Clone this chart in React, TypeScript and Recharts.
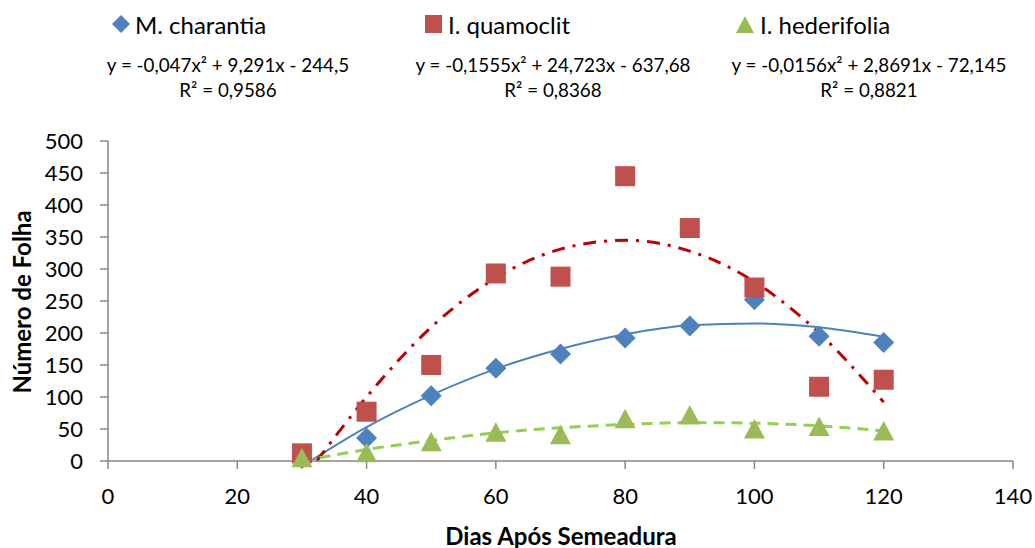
import { ComposedChart, Scatter, Line, XAxis, YAxis } from "recharts";

const days = [30, 40, 50, 60, 70, 80, 90, 100, 110, 120];
const charantia = [4, 36, 102, 145, 167, 192, 211, 252, 195, 185];
const quamoclit = [12, 77, 150, 293, 288, 445, 364, 271, 116, 127];
const hederifolia = [5, 13, 30, 45, 41, 66, 72, 50, 54, 47];

// trendline points
const charantiaTrendX = [31.3, 40, 50, 60, 70, 80, 90, 100, 110, 120];
const charantiaTrend = [0, 53, 103, 144, 175, 198, 212, 215, 209, 194];
const quamoclitTrendX = [32.3, 40, 50, 60, 70, 80, 90, 100, 110, 120];
const quamoclitTrend = [0, 100, 209, 286, 331, 345, 328, 280, 200, 92];
const hederifoliaTrendX = [30, 40, 50, 60, 70, 80, 90, 100, 110, 120];
const hederifoliaTrend = [0, 18, 32, 44, 52, 57, 60, 59, 55, 47];

const xTicks = [0, 20, 40, 60, 80, 100, 120, 140];
const yTicks = [0, 50, 100, 150, 200, 250, 300, 350, 400, 450, 500];

const equations = [
  { eq: "y = -0,047x² + 9,291x - 244,5", r2: "R² = 0,9586", cx: 228 },
  { eq: "y = -0,1555x² + 24,723x - 637,68", r2: "R² = 0,8368", cx: 553 },
  { eq: "y = -0,0156x² + 2,8691x - 72,145", r2: "R² = 0,8821", cx: 869 },
];

const BLUE = "#4F81BD";
const RED = "#C0504D";
const GREEN = "#9BBB59";
const AXIS = "#868686";
const FONT = "Lato, 'Open Sans', sans-serif";

const toPoints = (xs: number[], ys: number[]) => xs.map((x, i) => ({ x, y: ys[i] }));

const charantiaData = toPoints(days, charantia);
const quamoclitData = toPoints(days, quamoclit);
const hederifoliaData = toPoints(days, hederifolia);

const Diamond = (props: any) => {
  const { cx, cy } = props;
  const r = 10.5;
  return (
    <polygon
      points={`${cx},${cy - r} ${cx + r},${cy} ${cx},${cy + r} ${cx - r},${cy}`}
      fill={BLUE}
    />
  );
};

const Square = (props: any) => {
  const { cx, cy } = props;
  return <rect x={cx - 10} y={cy - 10} width={20} height={20} fill={RED} />;
};

const Triangle = (props: any) => {
  const { cx, cy } = props;
  return (
    <polygon
      points={`${cx},${cy - 10} ${cx + 10.5},${cy + 9.5} ${cx - 10.5},${cy + 9.5}`}
      fill={GREEN}
    />
  );
};

const tickStyle = { fontSize: 22, fill: "#000", fontFamily: FONT };

function LegendRow() {
  const items = [
    { name: "M. charantia", x: 111, mark: "diamond", color: BLUE },
    { name: "I. quamoclit", x: 424, mark: "square", color: RED },
    { name: "I. hederifolia", x: 736, mark: "triangle", color: GREEN },
  ];
  return (
    <>
      {items.map((it) => (
        <div
          key={it.name}
          style={{
            position: "absolute",
            left: it.x,
            top: 10,
            height: 28,
            display: "flex",
            alignItems: "center",
            fontFamily: FONT,
            fontSize: 24,
            color: "#000",
            whiteSpace: "nowrap",
          }}
        >
          <svg width={20} height={20} style={{ marginRight: 4 }}>
            {it.mark === "diamond" && <polygon points="10,1 19,10 10,19 1,10" fill={it.color} />}
            {it.mark === "square" && <rect x={1} y={1} width={17} height={18} fill={it.color} />}
            {it.mark === "triangle" && <polygon points="9,2 18,19 0,19" fill={it.color} />}
          </svg>
          {it.name}
        </div>
      ))}
    </>
  );
}

export default function App() {
  return (
    <div style={{ position: "absolute", left: 0, top: 0, width: 1035, height: 548, background: "#fff" }}>
      <ComposedChart
        width={1035}
        height={548}
        margin={{ top: 141, right: 22, bottom: 47, left: 28 }}
        style={{ fontFamily: FONT }}
      >
        <XAxis
          dataKey="x"
          type="number"
          domain={[0, 140]}
          ticks={xTicks}
          height={40}
          tick={tickStyle}
          tickSize={8}
          tickMargin={19}
          stroke={AXIS}
          axisLine={{ stroke: AXIS, strokeWidth: 1.5 }}
          tickLine={{ stroke: AXIS, strokeWidth: 1.5 }}
        />
        <YAxis
          dataKey="y"
          type="number"
          domain={[0, 500]}
          ticks={yTicks}
          width={80}
          tick={tickStyle}
          tickSize={8}
          tickMargin={17}
          stroke={AXIS}
          axisLine={{ stroke: AXIS, strokeWidth: 1.5 }}
          tickLine={{ stroke: AXIS, strokeWidth: 1.5 }}
        />
        <Scatter name="M. charantia" data={charantiaData} dataKey="y" shape={Diamond} isAnimationActive={false} />
        <Scatter name="I. quamoclit" data={quamoclitData} dataKey="y" shape={Square} isAnimationActive={false} />
        <Scatter name="I. hederifolia" data={hederifoliaData} dataKey="y" shape={Triangle} isAnimationActive={false} />
        <Line
          data={toPoints(charantiaTrendX, charantiaTrend)}
          dataKey="y"
          type="monotone"
          stroke={BLUE}
          strokeWidth={2}
          dot={false}
          activeDot={false}
          legendType="none"
          isAnimationActive={false}
        />
        <Line
          data={toPoints(quamoclitTrendX, quamoclitTrend)}
          dataKey="y"
          type="monotone"
          stroke="#C00000"
          strokeWidth={3}
          strokeDasharray="13 8 3 8"
          dot={false}
          activeDot={false}
          legendType="none"
          isAnimationActive={false}
        />
        <Line
          data={toPoints(hederifoliaTrendX, hederifoliaTrend)}
          dataKey="y"
          type="monotone"
          stroke="#92D050"
          strokeWidth={3}
          strokeDasharray="11 7"
          dot={false}
          activeDot={false}
          legendType="none"
          isAnimationActive={false}
        />
      </ComposedChart>

      <LegendRow />

      {equations.map((e) => (
        <div
          key={e.eq}
          style={{
            position: "absolute",
            left: e.cx,
            top: 52,
            transform: "translateX(-50%)",
            textAlign: "center",
            fontFamily: FONT,
            fontSize: 18.8,
            lineHeight: "25px",
            color: "#000",
            whiteSpace: "nowrap",
          }}
        >
          <div>{e.eq}</div>
          <div>{e.r2}</div>
        </div>
      ))}

      <div
        style={{
          position: "absolute",
          left: 21,
          top: 302,
          transform: "translate(-50%, -50%) rotate(-90deg)",
          fontFamily: FONT,
          fontSize: 24,
          fontWeight: 700,
          whiteSpace: "nowrap",
          color: "#000",
        }}
      >
        Número de Folha
      </div>
      <div
        style={{
          position: "absolute",
          left: 561,
          top: 535,
          transform: "translate(-50%, -50%)",
          fontFamily: FONT,
          fontSize: 24,
          fontWeight: 700,
          whiteSpace: "nowrap",
          color: "#000",
        }}
      >
        Dias Após Semeadura
      </div>
    </div>
  );
}
